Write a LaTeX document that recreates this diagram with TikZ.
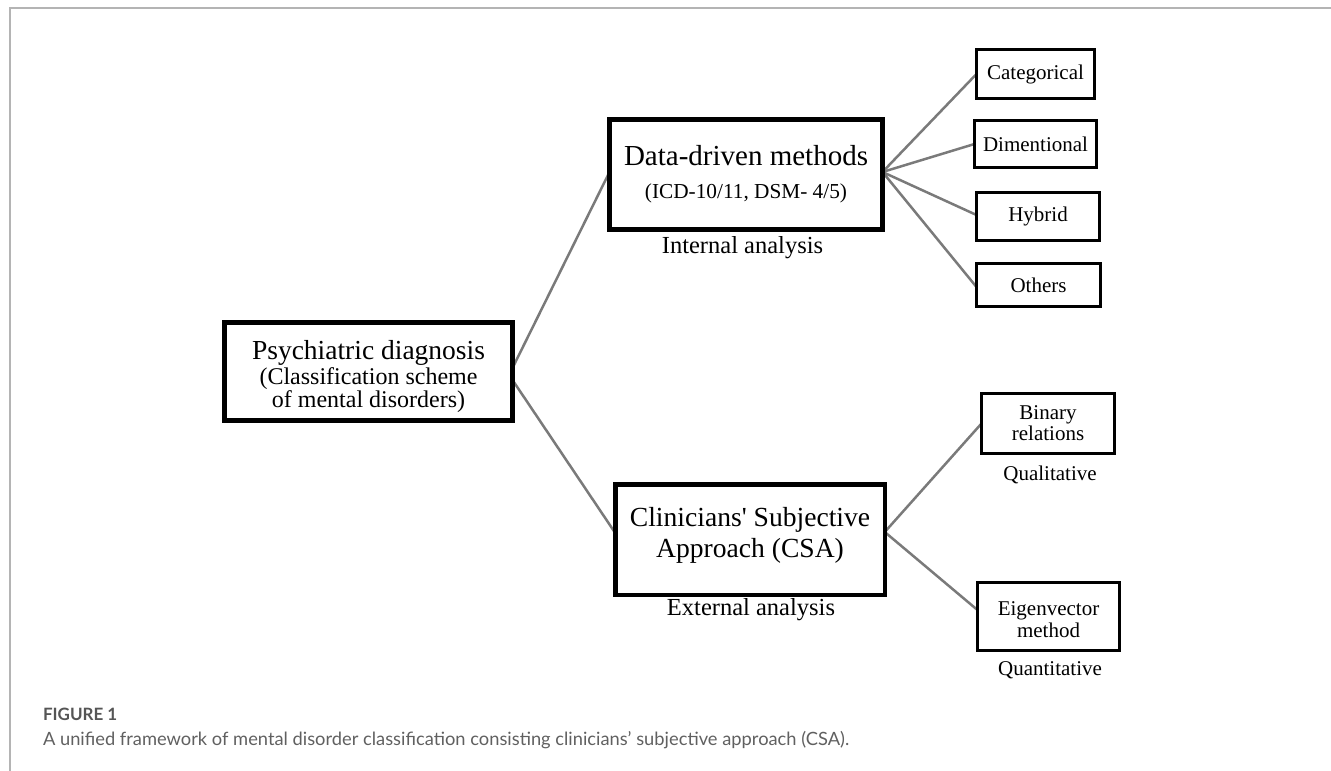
\documentclass[tikz,border=0pt]{standalone}
\usepackage{fontspec}
\setmainfont{Liberation Serif}
\newfontfamily\capfont{Lato}
\usetikzlibrary{backgrounds}
\definecolor{linkgray}{HTML}{7A7A7A}
\definecolor{framegray}{HTML}{B4B4B4}
\definecolor{capgray}{HTML}{606060}
\definecolor{figgray}{HTML}{555555}
\begin{document}
\begin{tikzpicture}[x=1pt,y=-1pt,
  every node/.style={inner sep=0pt, outer sep=0pt},
  bigbox/.style={draw=black, line width=5pt, fill=white, align=center},
  smallbox/.style={draw=black, line width=3pt, fill=white, align=center, font=\fontsize{21}{21}\selectfont},
  link/.style={draw=linkgray, line width=2.5pt},
  note/.style={font=\fontsize{24.5}{24.5}\selectfont},
  smallnote/.style={font=\fontsize{21}{21}\selectfont},
  ]
\useasboundingbox (0,0) rectangle (1331,771);
\draw[framegray, line width=2pt] (10,771) -- (10,8) -- (1331,8);

% main boxes
\node[bigbox, minimum width=288pt, minimum height=98pt, font=\fontsize{24}{20}\selectfont] (psy) at (368.5,371.5)
  {\rule{0pt}{29pt}{\fontsize{27.5}{20}\selectfont Psychiatric diagnosis}\\[1pt] (Classification scheme\\ of mental disorders)};
\node[bigbox, minimum width=273pt, minimum height=110pt, font=\fontsize{21.3}{21}\selectfont] (data) at (746,174.5)
  {{\fontsize{29}{21}\selectfont Data-driven methods}\\[12pt] (ICD-10/11, DSM- 4/5)};
\node[bigbox, line width=4.5pt, minimum width=269.5pt, minimum height=110.5pt, font=\fontsize{27.6}{31}\selectfont] (csa) at (750,539.5)
  {Clinicians\textquotesingle{} Subjective\\ Approach (CSA)\rule[-14pt]{0pt}{14pt}};

% small boxes
\node[smallbox, minimum width=118pt, minimum height=49pt] (cat) at (1035.5,74) {Categorical};
\node[smallbox, minimum width=122pt, minimum height=47pt] (dim) at (1035.5,144) {Dimentional};
\node[smallbox, minimum width=123pt, minimum height=48pt] (hyb) at (1038,216.5) {Hybrid};
\node[smallbox, minimum width=124pt, minimum height=43pt] (oth) at (1038.5,285) {Others};
\node[smallbox, minimum width=133pt, minimum height=60pt] (bin) at (1048,423.5) {Binary\\relations};
\node[smallbox, minimum width=142pt, minimum height=68pt, font=\fontsize{21}{22}\selectfont] (eig) at (1048.5,616.5) {\rule{0pt}{20pt}Eigenvector\\method};

% notes
\node[note] (intl) at (742.5,248) {Internal analysis};
\node[note] (extl) at (751,610) {External analysis};
\node[smallnote] (qual) at (1050,475) {Qualitative};
\node[smallnote] (quan) at (1050,670) {Quantitative};

% connectors
\begin{scope}[on background layer]
\draw[link] ([yshift=3.5pt]psy.east) -- ([yshift=2.5pt]data.west);
\draw[link] ([yshift=-8.5pt]psy.east) -- ([yshift=6.5pt]csa.west);
\draw[link] ([yshift=2.5pt]data.east) -- (cat.west);
\draw[link] ([yshift=2.5pt]data.east) -- (dim.west);
\draw[link] ([yshift=2.5pt]data.east) -- ([yshift=1.5pt]hyb.west);
\draw[link] ([yshift=2.5pt]data.east) -- ([yshift=-2pt]oth.west);
\draw[link] ([yshift=7.5pt]csa.east) -- (bin.west);
\draw[link] ([yshift=7.5pt]csa.east) -- ([yshift=6.5pt]eig.west);
\end{scope}

% caption
\node[anchor=base west, font=\capfont\bfseries\fontsize{17}{17}\selectfont, text=figgray] (fig) at (43,720) {FIGURE 1};
\node[anchor=base west, font=\capfont\fontsize{18.3}{18.3}\selectfont, text=capgray] (cap) at (43,745)
  {A unified framework of mental disorder classification consisting clinicians’ subjective approach (CSA).};
\end{tikzpicture}
\end{document}
